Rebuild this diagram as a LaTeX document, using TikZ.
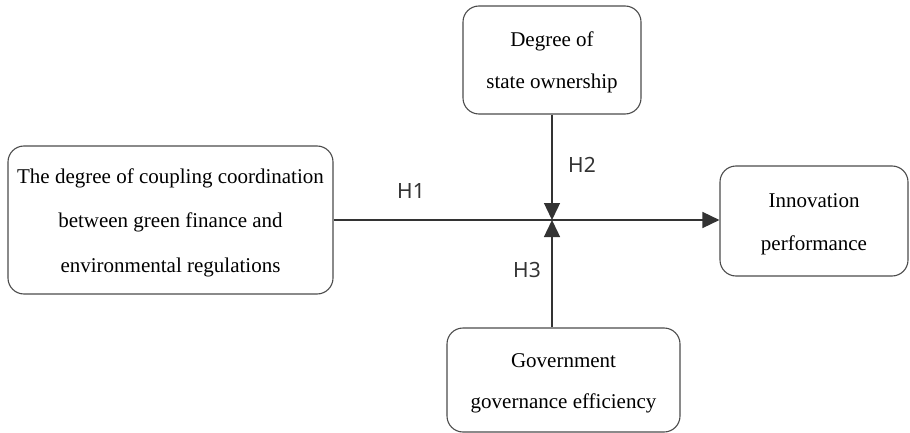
\documentclass[tikz,border=0pt]{standalone}
\usepackage{fontspec}
\setmainfont{Liberation Serif}
\newfontfamily\hfont{Noto Sans}
\usetikzlibrary{arrows.meta}
\newcommand{\topgap}{\rule{0pt}{20pt}}
\tikzset{
  factor/.style={rectangle, rounded corners=16pt, draw=black!70, line width=1.1pt, align=center, inner sep=0pt},
  link/.style={draw=black!80, line width=1.4pt, -{Triangle[length=17pt,width=16pt]}},
  hyp/.style={font=\hfont\fontsize{21}{24}\selectfont, text=black!80}
}
\begin{document}
\begin{tikzpicture}[x=1pt, y=-1pt]
        \useasboundingbox (0,0) rectangle (910,433);
        \node (coup) [factor, minimum width=325pt, minimum height=148pt, font=\fontsize{21}{44.5}\selectfont] at (170.5,220) {\topgap The degree of coupling coordination\\between green finance and\\environmental regulations};
        \node (state) [factor, minimum width=178pt, minimum height=108pt, font=\fontsize{21}{42}\selectfont] at (552,60) {\topgap Degree of\\state ownership};
        \node (inno) [factor, minimum width=188pt, minimum height=110pt, font=\fontsize{21}{43}\selectfont] at (814,221) {\topgap Innovation\\performance};
        \node (gov) [factor, minimum width=233pt, minimum height=104pt, font=\fontsize{21}{41}\selectfont] at (563.5,380) {\topgap Government\\governance efficiency};
        \coordinate (m) at (552,220);

        \draw [link] (coup.east |- m) -- (inno.west |- m);
        \draw [link] (state.south) -- (m);
        \draw [link] (gov.north -| m) -- (m);

        \node (h1) [hyp] at (411,191) {H1};
        \node (h2) [hyp] at (582,165) {H2};
        \node (h3) [hyp] at (527,270) {H3};
    \end{tikzpicture}
\end{document}
